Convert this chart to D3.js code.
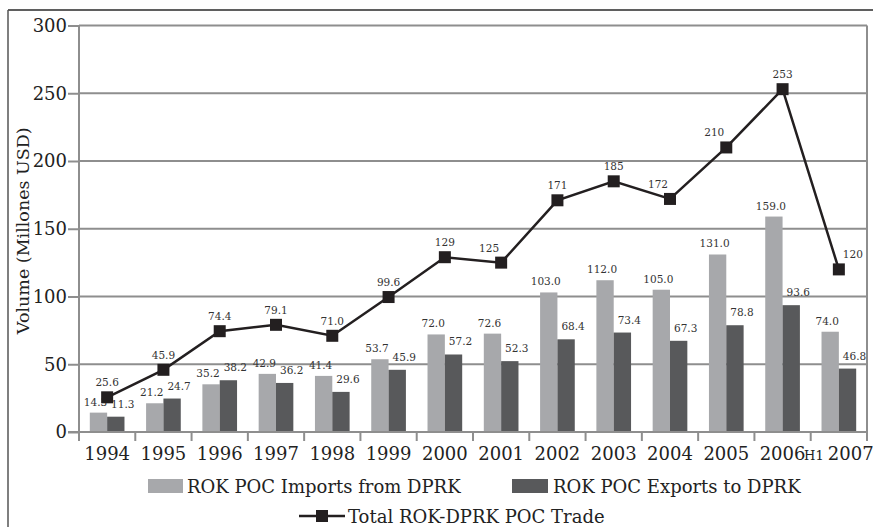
<!DOCTYPE html>
<html>
<head>
<meta charset="utf-8">
<script src="https://cdn.jsdelivr.net/npm/d3@7"></script>
<style>
  html, body { margin: 0; padding: 0; background: #fff; }
  svg { display: block; font-family: "DejaVu Serif", serif; }
</style>
</head>
<body>
<svg id="chart" width="873" height="527"></svg>
<script>
const categories = ["1994","1995","1996","1997","1998","1999","2000","2001","2002","2003","2004","2005","2006","H1 2007"];
const imports = [14.3, 21.2, 35.2, 42.9, 41.4, 53.7, 72.0, 72.6, 103.0, 112.0, 105.0, 131.0, 159.0, 74.0];
const exportsV = [11.3, 24.7, 38.2, 36.2, 29.6, 45.9, 57.2, 52.3, 68.4, 73.4, 67.3, 78.8, 93.6, 46.8];
const totals = [25.6, 45.9, 74.4, 79.1, 71.0, 99.6, 129, 125, 171, 185, 172, 210, 253, 120];
const totalLabels = ["25.6","45.9","74.4","79.1","71.0","99.6","129","125","171","185","172","210","253","120"];
const yTicks = [0, 50, 100, 150, 200, 250, 300];
const seriesNames = ["ROK POC Imports from DPRK", "ROK POC Exports to DPRK", "Total ROK-DPRK POC Trade"];

(function () {
const svg = d3.select("#chart");
const pL = 79, pR = 867, pT = 25.5, pB = 432;
const cImp = "#a7a8ab", cExp = "#58595b", cLine = "#231f20", cGrid = "#8e8e8e";

// outer frame
svg.append("line").attr("x1", 8).attr("x2", 873).attr("y1", 10).attr("y2", 10).attr("stroke", "#2a2a2a").attr("stroke-width", 1.5);
svg.append("line").attr("x1", 8).attr("x2", 8).attr("y1", 10).attr("y2", 527).attr("stroke", "#555").attr("stroke-width", 1.5);

const x = d3.scaleBand().domain(categories).range([pL, pR]).padding(0);
const y = d3.scaleLinear().domain([0, 300]).range([pB, pT]);
const bw = x.bandwidth();
const barW = bw * 0.308;
const sub = d3.scaleBand().domain(["imp", "exp"]).range([0, barW * 2]);
const offset = (bw - barW * 2) / 2;

// gridlines + y ticks
const yAxis = d3.axisLeft(y).tickValues(yTicks).tickSize(11).tickPadding(1).tickFormat(d3.format("d"));
const gy = svg.append("g").attr("transform", `translate(${pL},0)`).call(yAxis);
gy.select(".domain").remove();
gy.selectAll(".tick line").attr("stroke", cGrid).attr("stroke-width", 2);
gy.selectAll(".tick text").attr("font-size", 18).attr("fill", "#222").attr("font-family", "DejaVu Serif");
svg.append("g").selectAll("line").data(yTicks).join("line")
  .attr("x1", pL).attr("x2", pR)
  .attr("y1", d => y(d)).attr("y2", d => y(d))
  .attr("stroke", cGrid).attr("stroke-width", 2);
svg.append("line").attr("x1", pL).attr("x2", pL).attr("y1", pT).attr("y2", pB + 9).attr("stroke", cGrid).attr("stroke-width", 2);
svg.append("line").attr("x1", pR).attr("x2", pR).attr("y1", pT).attr("y2", pB + 9).attr("stroke", cGrid).attr("stroke-width", 2);

// x ticks at band boundaries
const bounds = categories.map(c => x(c)).concat([pR]);
svg.append("g").selectAll("line").data(bounds).join("line")
  .attr("x1", d => d).attr("x2", d => d).attr("y1", pB).attr("y2", pB + 9)
  .attr("stroke", cGrid).attr("stroke-width", 2);

// bars
const g = svg.append("g");
g.selectAll(".imp").data(categories).join("rect")
  .attr("x", (c) => x(c) + offset + sub("imp"))
  .attr("width", sub.bandwidth())
  .attr("y", (c, i) => y(imports[i]))
  .attr("height", (c, i) => y(0) - y(imports[i]))
  .attr("fill", cImp);
g.selectAll(".exp").data(categories).join("rect")
  .attr("x", (c) => x(c) + offset + sub("exp"))
  .attr("width", sub.bandwidth())
  .attr("y", (c, i) => y(exportsV[i]))
  .attr("height", (c, i) => y(0) - y(exportsV[i]))
  .attr("fill", cExp);

svg.append("line").attr("x1", pL - 11).attr("x2", pR).attr("y1", y(0)).attr("y2", y(0)).attr("stroke", cGrid).attr("stroke-width", 2);

// bar labels
const fmt1 = d3.format(".1f");
const gl = svg.append("g");
gl.selectAll("text.impl").data(categories).join("text").attr("class", "impl")
  .attr("x", c => x(c) + offset + sub("imp") + sub.bandwidth() / 2 - 3)
  .attr("y", (c, i) => y(imports[i]) - 7)
  .attr("text-anchor", "middle").attr("font-size", 10.5).attr("fill", "#333")
  .text((c, i) => fmt1(imports[i]));
gl.selectAll("text.expl").data(categories).join("text").attr("class", "expl")
  .attr("x", c => x(c) + offset + sub("exp") + sub.bandwidth() / 2 + 7)
  .attr("y", (c, i) => y(exportsV[i]) - 9)
  .attr("text-anchor", "middle").attr("font-size", 10.5).attr("fill", "#333")
  .text((c, i) => fmt1(exportsV[i]));

// line
const cx = c => x(c) + bw / 2;
const line = d3.line().x((d, i) => cx(categories[i])).y(d => y(d));
svg.append("path").datum(totals).attr("d", line)
  .attr("fill", "none").attr("stroke", cLine).attr("stroke-width", 2.5);
const ms = 12;
svg.append("g").selectAll("rect").data(totals).join("rect")
  .attr("x", (d, i) => cx(categories[i]) - ms / 2)
  .attr("y", d => y(d) - ms / 2)
  .attr("width", ms).attr("height", ms).attr("fill", cLine);
// shift labels away from steep neighbouring segments
const labelDx = (d, i) => {
  const nxt = totals[i + 1], prv = totals[i - 1];
  if (nxt !== undefined && nxt - d > 35) return -12;
  if (prv !== undefined && prv - d > 35) return 14;
  return 0;
};
svg.append("g").selectAll("text").data(totals).join("text")
  .attr("x", (d, i) => cx(categories[i]) + labelDx(d, i))
  .attr("y", d => y(d) - 11)
  .attr("text-anchor", "middle").attr("font-size", 10.5).attr("fill", "#333")
  .text((d, i) => totalLabels[i]);

// x labels
const xl = svg.append("g").selectAll("text").data(categories).join("text")
  .attr("x", c => cx(c)).attr("y", 460)
  .attr("text-anchor", "middle").attr("font-size", 18).attr("fill", "#222");
xl.each(function(c) {
  const t = d3.select(this);
  const parts = c.split(" ");
  if (parts.length > 1) {
    t.append("tspan").attr("font-size", 13).text(parts[0] + " ");
    t.append("tspan").text(parts[1]);
  } else {
    t.text(c);
  }
});

// y axis title
svg.append("text")
  .attr("transform", `translate(29,${(pT + pB) / 2 + 2}) rotate(-90)`)
  .attr("text-anchor", "middle").attr("font-size", 17.5).attr("fill", "#222")
  .text("Volume (Millones USD)");

// legend
const lg = svg.append("g").attr("font-size", 18).attr("fill", "#222");
lg.append("rect").attr("x", 148).attr("y", 479).attr("width", 35).attr("height", 14).attr("fill", cImp);
lg.append("text").attr("x", 187).attr("y", 493).text(seriesNames[0]);
lg.append("rect").attr("x", 512).attr("y", 479).attr("width", 36).attr("height", 14).attr("fill", cExp);
lg.append("text").attr("x", 553).attr("y", 493).text(seriesNames[1]);
lg.append("line").attr("x1", 299).attr("x2", 345).attr("y1", 516).attr("y2", 516).attr("stroke", cLine).attr("stroke-width", 2.5);
lg.append("rect").attr("x", 322 - 6).attr("y", 510).attr("width", 12).attr("height", 12).attr("fill", cLine);
lg.append("text").attr("x", 348).attr("y", 523).text(seriesNames[2]);
})();
</script>
</body>
</html>
